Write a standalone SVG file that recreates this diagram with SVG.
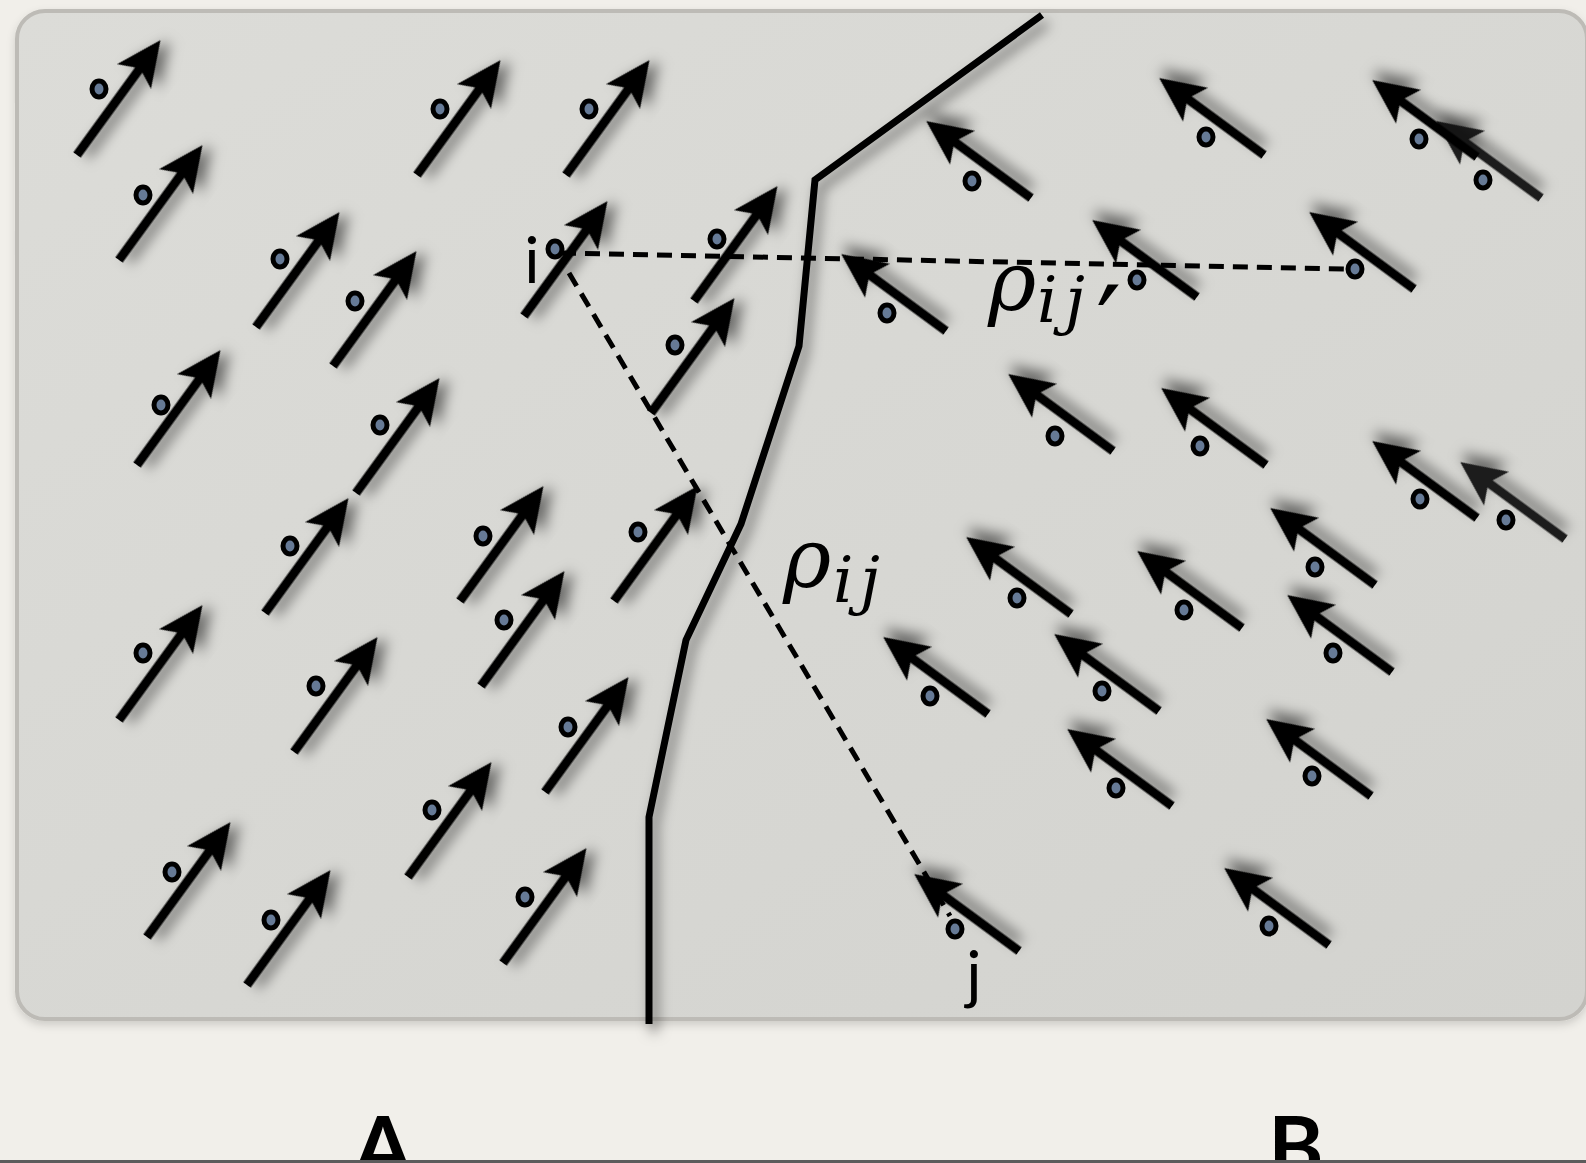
<svg xmlns="http://www.w3.org/2000/svg" xmlns:xlink="http://www.w3.org/1999/xlink" width="1586" height="1163" viewBox="0 0 1586 1163">
  <style>
    .spin { fill: #000; filter: url(#shadow); }
    .spin.dim { fill: #1e1e1e; }
    .site { fill: #667a96; stroke: #000; stroke-width: 5; }
    .dash { fill: none; stroke: #000; stroke-width: 5; stroke-dasharray: 15 9; }
    .wall { fill: none; stroke: #000; stroke-width: 7; stroke-linejoin: miter; filter: url(#shadow); }
    .lbl { font-family: Lato, "Noto Sans", sans-serif; fill: #000; }
    .math { font-family: "DejaVu Serif", "Liberation Serif", serif; font-style: italic; fill: #000; }
    .sub { font-size: 64px; }
    .prime { font-style: normal; font-size: 112px; }
  </style>
  <defs>
    <linearGradient id="panelFill" x1="0" y1="0" x2="1" y2="1">
      <stop offset="0" stop-color="#dcdcd8"/>
      <stop offset="1" stop-color="#d3d3cf"/>
    </linearGradient>
    <filter id="shadow" x="-40%" y="-40%" width="180%" height="180%">
      <feDropShadow dx="5" dy="8" stdDeviation="6.5" flood-color="#000" flood-opacity="0.5"/>
    </filter>
    <filter id="panelShadow" x="-5%" y="-5%" width="110%" height="110%">
      <feDropShadow dx="0" dy="4" stdDeviation="4" flood-color="#000" flood-opacity="0.15"/>
    </filter>
    <!-- spin arrows: tail at origin, pointing along +x -->
    <path id="aL" d="M0,-4.5 L105,-4.5 L97,-21 L142,0 L97,21 L105,4.5 L0,4.5 Z"/>
    <path id="aR" d="M0,-4.5 L93,-4.5 L85,-21 L130,0 L85,21 L93,4.5 L0,4.5 Z"/>
    <clipPath id="aboveRule"><rect x="0" y="0" width="1586" height="1160"/></clipPath>
  </defs>

  <!-- background -->
  <rect x="0" y="0" width="1586" height="1163" fill="#f1efea"/>

  <g id="panel">
    <rect x="17" y="11" width="1570" height="1008" rx="28" ry="28" fill="url(#panelFill)" stroke="#bdbbb6" stroke-width="4" filter="url(#panelShadow)"/>
  </g>

  <g id="connectors">
    <!-- domain wall -->
    <polyline class="wall" points="1042,15 815,180 799,346 741,524 686,640 649,817 649,1024"/>
    <!-- correlations from site i -->
    <line class="dash" x1="561" y1="253" x2="1345" y2="269"/>
    <line class="dash" x1="569" y1="273" x2="950" y2="916"/>
  </g>

  <g id="spins">
    <!-- region A: spins pointing up-right -->
    <g id="s1"><use class="spin" href="#aL" transform="translate(77,155) rotate(-54)"/><ellipse class="site" cx="99" cy="89" rx="7" ry="8"/></g>
    <g id="s2"><use class="spin" href="#aL" transform="translate(119,260) rotate(-54)"/><ellipse class="site" cx="143" cy="195" rx="7" ry="8"/></g>
    <g id="s3"><use class="spin" href="#aL" transform="translate(417,175) rotate(-54)"/><ellipse class="site" cx="440" cy="109" rx="7" ry="8"/></g>
    <g id="s4"><use class="spin" href="#aL" transform="translate(566,175) rotate(-54)"/><ellipse class="site" cx="589" cy="109" rx="7" ry="8"/></g>
    <g id="s5"><use class="spin" href="#aL" transform="translate(256,327) rotate(-54)"/><ellipse class="site" cx="280" cy="259" rx="7" ry="8"/></g>
    <g id="s6"><use class="spin" href="#aL" transform="translate(333,366) rotate(-54)"/><ellipse class="site" cx="355" cy="301" rx="7" ry="8"/></g>
    <g id="site-i"><use class="spin" href="#aL" transform="translate(524,316) rotate(-54)"/><ellipse class="site" cx="555" cy="249" rx="7" ry="8"/></g>
    <g id="s8"><use class="spin" href="#aL" transform="translate(694,301) rotate(-54)"/><ellipse class="site" cx="717" cy="239" rx="7" ry="8"/></g>
    <g id="s9"><use class="spin" href="#aL" transform="translate(651,413) rotate(-54)"/><ellipse class="site" cx="675" cy="345" rx="7" ry="8"/></g>
    <g id="s10"><use class="spin" href="#aL" transform="translate(137,465) rotate(-54)"/><ellipse class="site" cx="161" cy="405" rx="7" ry="8"/></g>
    <g id="s11"><use class="spin" href="#aL" transform="translate(356,493) rotate(-54)"/><ellipse class="site" cx="380" cy="425" rx="7" ry="8"/></g>
    <g id="s12"><use class="spin" href="#aL" transform="translate(265,613) rotate(-54)"/><ellipse class="site" cx="290" cy="546" rx="7" ry="8"/></g>
    <g id="s13"><use class="spin" href="#aL" transform="translate(460,601) rotate(-54)"/><ellipse class="site" cx="483" cy="536" rx="7" ry="8"/></g>
    <g id="s14"><use class="spin" href="#aL" transform="translate(614,601) rotate(-54)"/><ellipse class="site" cx="638" cy="532" rx="7" ry="8"/></g>
    <g id="s15"><use class="spin" href="#aL" transform="translate(481,686) rotate(-54)"/><ellipse class="site" cx="504" cy="620" rx="7" ry="8"/></g>
    <g id="s16"><use class="spin" href="#aL" transform="translate(119,720) rotate(-54)"/><ellipse class="site" cx="143" cy="653" rx="7" ry="8"/></g>
    <g id="s17"><use class="spin" href="#aL" transform="translate(294,752) rotate(-54)"/><ellipse class="site" cx="316" cy="686" rx="7" ry="8"/></g>
    <g id="s18"><use class="spin" href="#aL" transform="translate(545,792) rotate(-54)"/><ellipse class="site" cx="568" cy="727" rx="7" ry="8"/></g>
    <g id="s19"><use class="spin" href="#aL" transform="translate(408,877) rotate(-54)"/><ellipse class="site" cx="432" cy="810" rx="7" ry="8"/></g>
    <g id="s20"><use class="spin" href="#aL" transform="translate(147,937) rotate(-54)"/><ellipse class="site" cx="172" cy="872" rx="7" ry="8"/></g>
    <g id="s21"><use class="spin" href="#aL" transform="translate(247,985) rotate(-54)"/><ellipse class="site" cx="271" cy="920" rx="7" ry="8"/></g>
    <g id="s22"><use class="spin" href="#aL" transform="translate(503,963) rotate(-54)"/><ellipse class="site" cx="525" cy="897" rx="7" ry="8"/></g>

    <!-- region B: spins pointing up-left -->
    <g id="t1"><use class="spin" href="#aR" transform="translate(1031,198) rotate(-143.7)"/><ellipse class="site" cx="972" cy="181" rx="7" ry="8"/></g>
    <g id="t2"><use class="spin" href="#aR" transform="translate(1264,155) rotate(-143.7)"/><ellipse class="site" cx="1206" cy="137" rx="7" ry="8"/></g>
    <g id="t4"><use class="spin dim" href="#aR" transform="translate(1541,198) rotate(-143.7)"/><ellipse class="site" cx="1483" cy="180" rx="7" ry="8"/></g>
    <g id="t3"><use class="spin" href="#aR" transform="translate(1477,157) rotate(-143.7)"/><ellipse class="site" cx="1419" cy="139" rx="7" ry="8"/></g>
    <g id="t5"><use class="spin" href="#aR" transform="translate(1197,297) rotate(-143.7)"/><ellipse class="site" cx="1137" cy="280" rx="7" ry="8"/></g>
    <g id="site-j2"><use class="spin" href="#aR" transform="translate(1414,289) rotate(-143.7)"/><ellipse class="site" cx="1355" cy="269" rx="7" ry="8"/></g>
    <g id="t7"><use class="spin" href="#aR" transform="translate(946,331) rotate(-143.7)"/><ellipse class="site" cx="887" cy="313" rx="7" ry="8"/></g>
    <g id="t8"><use class="spin" href="#aR" transform="translate(1113,451) rotate(-143.7)"/><ellipse class="site" cx="1055" cy="436" rx="7" ry="8"/></g>
    <g id="t9"><use class="spin" href="#aR" transform="translate(1266,465) rotate(-143.7)"/><ellipse class="site" cx="1200" cy="446" rx="7" ry="8"/></g>
    <g id="t10"><use class="spin" href="#aR" transform="translate(1477,518) rotate(-143.7)"/><ellipse class="site" cx="1420" cy="499" rx="7" ry="8"/></g>
    <g id="t11"><use class="spin dim" href="#aR" transform="translate(1565,539) rotate(-143.7)"/><ellipse class="site" cx="1506" cy="520" rx="7" ry="8"/></g>
    <g id="t12"><use class="spin" href="#aR" transform="translate(1375,585) rotate(-143.7)"/><ellipse class="site" cx="1315" cy="567" rx="7" ry="8"/></g>
    <g id="t13"><use class="spin" href="#aR" transform="translate(1071,614) rotate(-143.7)"/><ellipse class="site" cx="1017" cy="598" rx="7" ry="8"/></g>
    <g id="t14"><use class="spin" href="#aR" transform="translate(1242,628) rotate(-143.7)"/><ellipse class="site" cx="1184" cy="610" rx="7" ry="8"/></g>
    <g id="t15"><use class="spin" href="#aR" transform="translate(1392,672) rotate(-143.7)"/><ellipse class="site" cx="1333" cy="653" rx="7" ry="8"/></g>
    <g id="t16"><use class="spin" href="#aR" transform="translate(988,714) rotate(-143.7)"/><ellipse class="site" cx="930" cy="696" rx="7" ry="8"/></g>
    <g id="t17"><use class="spin" href="#aR" transform="translate(1159,711) rotate(-143.7)"/><ellipse class="site" cx="1102" cy="691" rx="7" ry="8"/></g>
    <g id="t18"><use class="spin" href="#aR" transform="translate(1172,806) rotate(-143.7)"/><ellipse class="site" cx="1116" cy="788" rx="7" ry="8"/></g>
    <g id="t19"><use class="spin" href="#aR" transform="translate(1371,796) rotate(-143.7)"/><ellipse class="site" cx="1312" cy="776" rx="7" ry="8"/></g>
    <g id="t20"><use class="spin" href="#aR" transform="translate(1329,945) rotate(-143.7)"/><ellipse class="site" cx="1269" cy="926" rx="7" ry="8"/></g>
    <g id="site-j"><use class="spin" href="#aR" transform="translate(1019,951) rotate(-143.7)"/><ellipse class="site" cx="955" cy="929" rx="7" ry="8"/></g>
  </g>

  <g id="labels">
    <text class="lbl" x="532" y="283" font-size="64" text-anchor="middle">i</text>
    <text class="lbl" x="974" y="997" font-size="64" text-anchor="middle">j</text>
    <!-- correlation ρ_ij -->
    <text class="math" x="783" y="587" font-size="82">ρ<tspan class="sub" x="833" y="602">i</tspan><tspan class="sub" x="860" y="602">j</tspan></text>
    <!-- correlation ρ_ij′ -->
    <text class="math" x="988" y="310" font-size="82">ρ<tspan class="sub" x="1037" y="322">i</tspan><tspan class="sub" x="1065" y="322">j</tspan><tspan class="prime" x="1096" y="367">′</tspan></text>
    <g clip-path="url(#aboveRule)">
      <text class="lbl" x="383" y="1177" font-size="84" font-weight="bold" text-anchor="middle">A</text>
      <text class="lbl" x="1296" y="1177" font-size="84" font-weight="bold" text-anchor="middle">B</text>
    </g>
  </g>

  <rect x="0" y="1160" width="1586" height="3" fill="#5c5c5c"/>
</svg>
